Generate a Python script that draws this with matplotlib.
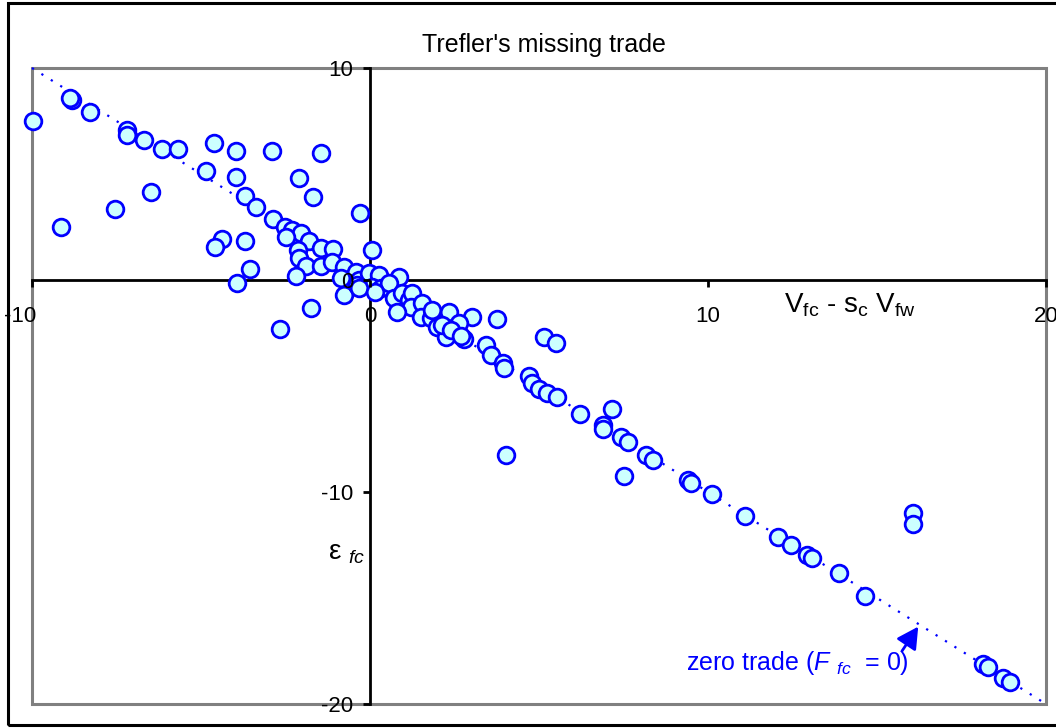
import matplotlib
matplotlib.use("Agg")
import matplotlib.pyplot as plt
from matplotlib.patches import Rectangle
from matplotlib.transforms import ScaledTranslation
import numpy as np

plt.rcParams['font.family'] = ['Liberation Sans', 'DejaVu Sans']
plt.rcParams['mathtext.fontset'] = 'custom'
plt.rcParams['mathtext.rm'] = 'Liberation Sans'
plt.rcParams['mathtext.it'] = 'Liberation Sans:italic'

# ---- data ----
title = "Trefler's missing trade"
x_label = r"V$_{\mathrm{fc}}$ - s$_{\mathrm{c}}$ V$_{\mathrm{fw}}$"
y_label = r"$\mathrm{\varepsilon}$ $_{\mathit{fc}}$"
note = r"zero trade ($\mathit{F}$ $_{\mathit{fc}}$  = 0)"

x_ticks = [-10, 0, 10, 20]
y_ticks = [-20, -10, 0, 10]

# V_fc - s_c V_fw
vx = [-9.96, -8.83, -8.89, -8.27, -7.20, -7.20, -6.70, -6.16, -5.69, -4.62,
      -3.97, -2.90, -1.45, -4.86, -3.97, -2.10, -6.49, -3.70, -1.69, -7.53,
      -9.13, -3.38, -2.87, -0.30, -2.52, -2.31, -2.05, -2.49, -1.81, -4.39,
      -4.59, -3.70, -2.13, -1.45, -1.10, 0.06, -2.10, -1.90, -1.45, -1.13,
      -0.77, -0.41, -3.56, -2.19, -3.94, -0.86, -0.33, -0.03, 0.27, 0.86,
      -0.77, -0.39, 0.06, 0.33, 0.56, 0.71, 0.95, 1.16, 1.24, 1.22,
      0.80, -1.75, -2.67, 1.54, 1.51, 1.81, 1.84, 2.34, 3.02, 3.76,
      1.99, 2.25, 2.49, 2.64, 2.79, 2.13, 3.44, 3.59, 3.94, 3.97,
      5.16, 5.51, 4.71, 4.80, 5.01, 5.25, 5.54, 6.22, 7.17, 6.88,
      6.88, 7.44, 7.62, 8.18, 8.36, 4.03, 7.50, 9.40, 9.51, 10.11,
      11.08, 12.06, 12.45, 12.92, 13.07, 13.87, 14.64, 16.06, 16.06, 18.14,
      18.29, 18.73, 18.94, -0.33, 0.15, 2.40, 2.70]
# epsilon_fc
ey = [7.50, 8.49, 8.58, 7.92, 7.08, 6.84, 6.60, 6.18, 6.18, 6.46,
      6.08, 6.08, 5.99, 5.14, 4.86, 4.81, 4.15, 3.96, 3.92, 3.35,
      2.50, 3.44, 2.88, 3.16, 2.50, 2.36, 2.22, 2.03, 1.84, 1.93,
      1.56, 1.84, 1.42, 1.51, 1.46, 1.42, 1.04, 0.66, 0.66, 0.85,
      0.61, 0.38, 0.52, 0.19, -0.14, 0.09, 0.00, 0.33, 0.24, 0.14,
      -0.71, -0.24, -0.33, -0.38, -0.14, -0.85, -0.61, -0.94, -0.61, -1.27,
      -1.51, -1.32, -2.31, -1.08, -1.75, -1.79, -1.42, -1.51, -1.75, -1.84,
      -2.22, -2.69, -2.26, -2.03, -2.78, -2.12, -3.07, -3.54, -3.92, -4.15,
      -2.69, -2.97, -4.53, -4.86, -5.14, -5.33, -5.52, -6.32, -6.08, -6.84,
      -7.03, -7.41, -7.64, -8.25, -8.49, -8.25, -9.25, -9.43, -9.58, -10.09,
      -11.13, -12.12, -12.50, -12.97, -13.11, -13.82, -14.91, -10.99, -11.51, -18.11,
      -18.25, -18.77, -18.96, -0.38, -0.57, -2.36, -2.64]

# zero-trade line endpoints
line_x = [-10, 20]
line_y = [10, -20]

# annotation anchors (data units)
note_xy = (9.34, -18.07)
arrow_tail = (15.74, -17.5)
arrow_tip = (16.22, -16.35)

blue = '#0000FF'
fill = '#CCFFFF'

fig = plt.figure(figsize=(10.56, 7.28), dpi=100)
ax = fig.add_axes([32/1056, 24/728, 1014/1056, 636/728])
ax.set_xlim(-10, 20)
ax.set_ylim(-20, 10)

# outer chart border
fig.patches.append(Rectangle((8/1056, 3/728), 1.2, 722/728, transform=fig.transFigure,
                             fill=False, edgecolor='black', lw=2.2))

# plot-area border
ax.add_patch(Rectangle((0, 0), 1, 1, transform=ax.transAxes, fill=False,
                       edgecolor='#808080', lw=2.2, zorder=2, clip_on=False))
for s in ['top', 'right']:
    ax.spines[s].set_visible(False)
ax.spines['left'].set_position(('data', 0))
ax.spines['bottom'].set_position(('data', 0))
for s in ['left', 'bottom']:
    ax.spines[s].set_color('black')
    ax.spines[s].set_linewidth(2)
    ax.spines[s].set_zorder(2.5)

ax.set_xticks(x_ticks)
ax.set_yticks(y_ticks)
ax.set_xticklabels([str(t) for t in x_ticks])
ax.set_yticklabels([str(t) for t in y_ticks])
ax.tick_params(axis='x', direction='out', length=5, width=2, pad=14, labelsize=16)
ax.tick_params(axis='y', direction='out', length=5, width=2, pad=7, labelsize=16)
ax.xaxis.set_zorder(4)
ax.yaxis.set_zorder(4)
# Excel keeps the first x label inside the chart area
lab0 = ax.get_xticklabels()[0]
lab0.set_transform(lab0.get_transform() + ScaledTranslation(-12/100, 0, fig.dpi_scale_trans))

# zero-trade line
ax.plot(line_x, line_y, color=blue, lw=1.6, ls=(0, (1, 4)), zorder=2.7, clip_on=False)

ax.plot(vx, ey, ls='none', marker='o', markersize=12, markerfacecolor=fill,
        markeredgecolor=blue, markeredgewidth=2, zorder=3, clip_on=False)

fig.text(544/1056, 1 - 45/728, title, ha='center', va='center', fontsize=18)
ax.text(14.2, -1.2, x_label, ha='center', va='center', fontsize=20, zorder=5)
ax.text(-0.15, -12.9, y_label, ha='right', va='center', fontsize=20, zorder=5)

ax.text(note_xy[0], note_xy[1], note, ha='left', va='center', fontsize=18,
        color=blue, zorder=5)
ax.annotate('', xy=arrow_tip, xytext=arrow_tail, zorder=5,
            arrowprops=dict(arrowstyle='-|>,head_length=0.65,head_width=0.35', color=blue,
                            lw=2, mutation_scale=20, shrinkA=0, shrinkB=0))

fig.savefig('out.png', dpi=100)
